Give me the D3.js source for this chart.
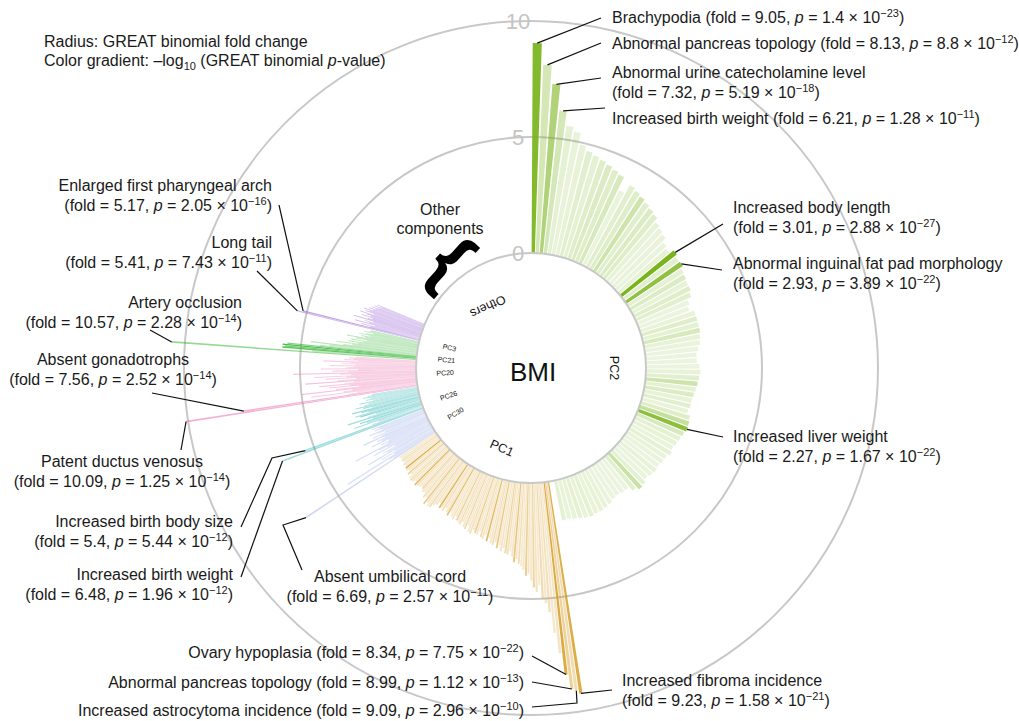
<!DOCTYPE html>
<html>
<head>
<meta charset="utf-8">
<script src="https://cdn.jsdelivr.net/npm/d3@7"></script>
<style>
  body { margin: 0; background: #fff; }
  svg { font-family: "Liberation Sans", Arial, Helvetica, sans-serif; }
</style>
</head>
<body>
<div id="chart"></div>
<script>
// ---- data ----
var groups = ["PC2", "PC1", "PC30", "PC26", "PC20", "PC21", "PC3", "Others"];

// fold change and -log10(p) per bar, in clockwise order inside each group
var pc2Fold = [9.05, 8.13, 7.32, 6.21, 5.6, 5.4, 4.9, 4.7, 4.6, 4.5,
  4.4, 4.3, 4.2, 3.6, 4.0, 3.9, 3.8, 3.7, 3.6, 3.5,
  3.3, 3.2, 3.1, 2.9, 2.8, 3.01, 2.9, 2.93, 2.8, 2.75,
  2.7, 2.7, 2.6, 2.4, 2.3, 2.5, 2.5, 2.5, 2.5, 2.45,
  2.4, 2.3, 2.2, 2.2, 2.3, 2.35, 2.3, 2.25, 2.2, 2.15,
  2.1, 2.1, 2.05, 2.2, 2.25, 2.27, 2.2, 2.15, 2.1, 2.05,
  2.1, 2.0, 2.0, 1.95, 2.0, 1.95, 1.9, 2.0, 2.05, 1.9,
  1.7, 1.7, 1.65, 1.7, 1.8, 1.85, 1.9, 1.9, 1.95, 1.9,
  1.85, 1.8, 1.75, 1.75];
var pc2NegLogP = [22.85, 11.06, 17.28, 10.89, 6, 4, 5, 7, 6, 8,
  9, 8, 10, 3, 7, 8, 12, 7, 9, 8,
  5, 3, 4, 3, 5, 26.54, 7, 21.41, 6, 9,
  5, 8, 7, 2, 2, 4, 8, 6, 10, 5,
  3, 2, 1.5, 1.5, 2, 5, 7, 12, 6, 9,
  5, 7, 4, 8, 14, 21.78, 10, 6, 5, 3,
  6, 4, 3, 2, 5, 3, 2, 6, 13, 7,
  2, 2, 1.5, 2, 3, 4, 5, 4, 6, 4,
  6, 5, 4, 6];

var pc1Fold = [9.23, 9.09, 8.99, 8.34, 7.4, 6.5, 5.6, 5.2, 5.0, 4.4,
  4.7, 4.5, 4.2, 3.9, 4.0, 3.75, 3.6, 3.5, 3.3, 3.45,
  3.2, 3.0, 3.15, 3.1, 2.9, 3.05, 2.8, 2.95, 2.7, 2.85,
  2.8, 2.6, 2.75, 2.5, 2.7, 2.65, 2.4, 2.6, 2.55, 2.45,
  2.65, 2.6, 2.35, 2.55, 2.5, 2.3, 2.45, 2.4, 2.35, 2.2,
  2.4, 2.3, 2.15, 2.35, 2.25, 2.1, 2.3, 2.2, 2.25, 2.05,
  2.2, 2.3, 2.45, 2.5, 2.35, 2.5, 2.2, 2.3, 2.1, 2.15,
  2.05, 2.0, 2.06, 2.1, 2.15, 2.0, 2.1, 2.15, 2.1, 1.95,
  2.05, 1.9, 2.0, 1.95, 1.9, 1.95, 1.85, 1.9, 1.85, 1.9];
var pc1NegLogP = [20.8, 9.53, 12.95, 21.1, 6, 4, 8, 5, 10, 3,
  7, 12, 4, 6, 14, 5, 3, 9, 4, 16,
  6, 3, 8, 12, 4, 7, 3, 15, 5, 9,
  6, 3, 18, 4, 7, 10, 3, 5, 14, 4,
  8, 6, 3, 11, 4, 6, 9, 3, 13, 4,
  7, 5, 3, 17, 6, 4, 9, 5, 19, 3,
  7, 5, 10, 4, 6, 15, 3, 8, 4, 6,
  11, 3, 5, 8, 18, 4, 6, 9, 3, 5,
  13, 4, 7, 20, 3, 6, 4, 9, 5, 3];

var pc30Fold = [6.69, 2.1, 2.3, 4.4, 2.0, 2.6, 1.9, 3.2, 2.2, 2.4, 1.8, 2.8, 2.1, 2.5, 3.6, 2.0,
  2.3, 1.9, 2.7, 2.2, 2.4, 2.0, 3.0, 2.1, 2.5, 1.9, 2.2, 2.6, 2.0, 2.3, 2.1, 2.4];
var pc30NegLogP = [10.6, 3, 4, 6, 2, 5, 3, 7, 2, 4, 2, 6, 3, 5, 8, 2,
  4, 3, 7, 2, 5, 3, 9, 2, 6, 2, 4, 8, 3, 5, 2, 6];

var pc26Fold = [6.48, 5.4, 2.3, 2.0, 3.1, 2.5, 2.8, 2.2, 3.3, 2.4, 2.0, 2.7, 2.9, 2.3,
  2.6, 3.0, 2.1, 2.5, 2.8, 2.4, 2.2, 2.6, 2.0, 2.3, 2.1, 2.4, 2.2, 2.0];
var pc26NegLogP = [11.7, 11.26, 4, 2, 10, 6, 14, 4, 12, 5, 3, 15, 9, 4,
  11, 13, 3, 8, 10, 6, 4, 9, 3, 5, 2, 6, 4, 3];

var pc20Fold = [10.09, 7.56, 3.0, 2.6, 4.6, 3.2, 2.8, 5.0, 3.5, 2.5, 3.8, 2.9, 4.2, 3.1, 2.7, 4.8, 3.4, 2.6, 3.9, 3.0,
  4.4, 2.8, 3.3, 5.3, 2.9, 3.6, 2.5, 4.1, 3.0, 2.7, 3.7, 2.6, 3.2, 2.8, 4.0, 2.5, 3.1, 2.7, 2.9, 2.6];
var pc20NegLogP = [13.9, 13.6, 5, 3, 7, 4, 6, 9, 5, 3, 8, 4, 6, 3, 5, 10, 4, 3, 7, 5,
  6, 3, 4, 8, 3, 5, 2, 7, 4, 3, 6, 2, 4, 3, 5, 2, 4, 3, 4, 2];

var pc21Fold = [10.57, 4.5, 5.8, 5.7, 5.8, 5.6, 4.2, 3.8, 4.6, 3.2, 2.8, 3.5, 2.6, 3.0,
  2.4, 2.9, 2.2, 2.7, 3.1, 2.3, 2.5, 2.1, 2.6, 2.3, 2.0, 2.4, 2.2, 2.1];
var pc21NegLogP = [13.64, 4, 20, 18, 22, 16, 5, 4, 6, 3, 5, 4, 3, 6,
  4, 5, 3, 4, 6, 3, 4, 2, 5, 3, 2, 4, 3, 2];

var pc3Fold = [5.41, 5.17, 2.2, 2.6, 2.0, 2.9, 2.3, 2.5, 2.1, 3.0, 2.4, 2.2, 2.7, 2.3,
  2.5, 2.8, 2.2, 2.6, 2.4, 2.7, 2.3, 2.5, 2.2, 2.4, 2.1, 2.3, 2.0, 2.2];
var pc3NegLogP = [10.13, 15.69, 3, 5, 2, 7, 4, 6, 3, 8, 5, 4, 9, 5,
  7, 10, 4, 8, 6, 9, 5, 7, 4, 6, 3, 5, 2, 4];

var scaleTicks = [0, 5, 10];

// annotated terms
var annGroup = ["PC2", "PC2", "PC2", "PC2", "PC2", "PC2", "PC2", "PC1", "PC1", "PC1", "PC1",
  "PC3", "PC3", "PC21", "PC20", "PC20", "PC26", "PC26", "PC30"];
var annIndex = [0, 1, 2, 3, 25, 27, 55, 3, 2, 1, 0, 1, 0, 0, 1, 0, 1, 0, 0];
var annName = ["Brachypodia", "Abnormal pancreas topology", "Abnormal urine catecholamine level",
  "Increased birth weight", "Increased body length", "Abnormal inguinal fat pad morphology",
  "Increased liver weight", "Ovary hypoplasia", "Abnormal pancreas topology",
  "Increased astrocytoma incidence", "Increased fibroma incidence", "Enlarged first pharyngeal arch",
  "Long tail", "Artery occlusion", "Absent gonadotrophs", "Patent ductus venosus",
  "Increased birth body size", "Increased birth weight", "Absent umbilical cord"];
var annFold = ["9.05", "8.13", "7.32", "6.21", "3.01", "2.93", "2.27", "8.34", "8.99", "9.09", "9.23",
  "5.17", "5.41", "10.57", "7.56", "10.09", "5.4", "6.48", "6.69"];
var annPMant = ["1.4", "8.8", "5.19", "1.28", "2.88", "3.89", "1.67", "7.75", "1.12", "2.96", "1.58",
  "2.05", "7.43", "2.28", "2.52", "1.25", "5.44", "1.96", "2.57"];
var annPExp = [23, 12, 18, 11, 27, 22, 22, 22, 13, 10, 21, 16, 11, 14, 14, 14, 12, 12, 11];

// ---- layout ----
var W = 1019, H = 721, cx = 531, cy = 368;
var deg = Math.PI / 180;

var groupSpan = {
  PC2: [0.3, 168.5], PC1: [171, 236], PC30: [236.2, 249], PC26: [249.3, 260.7],
  PC20: [261, 273.7], PC21: [274, 283.3], PC3: [283.6, 292.5]
};
var arcSpan = {
  PC2: [8, 162.6], PC1: [174, 233], PC30: [235.5, 247.5], PC26: [248.5, 260.5],
  PC20: [261.5, 271.8], PC21: [272.8, 281.8], PC3: [282.8, 291], Others: [294.5, 354.5]
};
var groupColor = {
  PC2: "#78b41a", PC1: "#d4981a", PC30: "#93a6e6", PC26: "#2fb5b5",
  PC20: "#ea6aab", PC21: "#35b535", PC3: "#9c68d6"
};
var groupPad = { PC2: 0.2, PC1: 0.22, PC30: 0.08, PC26: 0.08, PC20: 0.08, PC21: 0.08, PC3: 0.08 };
// lowest opacity per group (thin bars need more)
var groupFloor = { PC2: 0.14, PC1: 0.2, PC30: 0.3, PC26: 0.3, PC20: 0.3, PC21: 0.3, PC3: 0.35 };
// group name inside the ring: angle, radius, rotation, size
var groupLabel = {
  PC2: [90, 83, 90, 12.5], PC1: [200, 85, 24, 12.5], Others: [325, 75, 155, 12.5],
  PC3: [284, 84, 14, 7], PC21: [275.5, 85, 5.5, 7], PC20: [266.8, 86, -3, 7],
  PC26: [251.5, 87, -18.5, 7], PC30: [239, 88, -31, 7]
};

// label positions: x, baseline y, anchor, two lines?, pointer points from the label side
var annLayout = [
  { x: 612, y: 23, a: "start", two: false, pts: [[601, 18]] },
  { x: 612, y: 49, a: "start", two: false, pts: [[601, 43]] },
  { x: 612, y: 78, a: "start", two: true, pts: [[601, 78]] },
  { x: 612, y: 124, a: "start", two: false, pts: [[605, 108]] },
  { x: 733, y: 213, a: "start", two: true, pts: [[723, 224]] },
  { x: 733, y: 269, a: "start", two: true, pts: [[722, 270]] },
  { x: 733, y: 442, a: "start", two: true, pts: [[723, 437]] },
  { x: 524, y: 658, a: "end", two: false, pts: [[532, 656]] },
  { x: 524, y: 688, a: "end", two: false, pts: [[532, 682]] },
  { x: 524, y: 716, a: "end", two: false, pts: [[532, 707], [577, 703]] },
  { x: 622, y: 686, a: "start", two: true, pts: [[612, 690]] },
  { x: 272, y: 191, a: "end", two: true, pts: [[279, 205]] },
  { x: 272, y: 248, a: "end", two: true, pts: [[257, 271]] },
  { x: 242, y: 308, a: "end", two: true, pts: [[150, 330]] },
  { x: 113, y: 365, a: "middle", two: true, pts: [[152, 393]] },
  { x: 122, y: 467, a: "middle", two: true, pts: [[181, 450]] },
  { x: 233, y: 527, a: "end", two: true, pts: [[241, 527], [272, 458]] },
  { x: 233, y: 580, a: "end", two: true, pts: [[241, 577]] },
  { x: 390, y: 582, a: "middle", two: true, pts: [[302, 570], [283, 525]] }
];

var barData = {
  PC2: [pc2Fold, pc2NegLogP], PC1: [pc1Fold, pc1NegLogP], PC30: [pc30Fold, pc30NegLogP],
  PC26: [pc26Fold, pc26NegLogP], PC20: [pc20Fold, pc20NegLogP], PC21: [pc21Fold, pc21NegLogP],
  PC3: [pc3Fold, pc3NegLogP]
};

var svg = d3.select("#chart").append("svg")
  .attr("width", W).attr("height", H);

var r = d3.scaleLinear().domain([0, 10]).range([115, 347]);

function pt(a, rad) { return [cx + rad * Math.sin(a * deg), cy - rad * Math.cos(a * deg)]; }

// grid circles
svg.selectAll(".grid")
  .data([5, 10])
  .enter().append("circle")
  .attr("class", "grid")
  .attr("cx", cx).attr("cy", cy)
  .attr("r", function(d) { return r(d); })
  .style("fill", "none")
  .style("stroke", "#c8c8c8")
  .style("stroke-width", 2);

// bars
var bands = {};
var barG = svg.append("g").attr("transform", "translate(" + cx + "," + cy + ")");
Object.keys(barData).forEach(function(k) {
  var folds = barData[k][0], nlp = barData[k][1];
  var band = d3.scaleBand()
    .domain(d3.range(folds.length))
    .range([groupSpan[k][0] * deg, groupSpan[k][1] * deg])
    .paddingInner(groupPad[k]);
  bands[k] = band;
  var shade = d3.scalePow().exponent(2).domain([0, 24]).range([groupFloor[k], 1]).clamp(true);
  var arc = d3.arc()
    .innerRadius(r(0))
    .outerRadius(function(d) { return r(d.fold); })
    .startAngle(function(d) { return band(d.i); })
    .endAngle(function(d) { return band(d.i) + band.bandwidth(); });
  barG.selectAll(".bar-" + k)
    .data(folds.map(function(f, i) { return { i: i, fold: f, nlp: nlp[i] }; }))
    .enter().append("path")
    .attr("class", "bar-" + k)
    .attr("d", arc)
    .style("fill", groupColor[k])
    .style("fill-opacity", function(d) { return shade(d.nlp); });
});

// inner disc
svg.append("circle")
  .attr("cx", cx).attr("cy", cy).attr("r", r(0))
  .style("fill", "#fff")
  .style("stroke", "#c8c8c8")
  .style("stroke-width", 2);

// group arcs
var ring = d3.arc().innerRadius(106.5).outerRadius(111);
barG.selectAll(".ring")
  .data(groups)
  .enter().append("path")
  .attr("class", "ring")
  .attr("d", function(k) { return ring({ startAngle: arcSpan[k][0] * deg, endAngle: arcSpan[k][1] * deg }); })
  .style("fill", "#222");

groups.forEach(function(k) {
  var gl = groupLabel[k], p = pt(gl[0], gl[1]);
  svg.append("text")
    .attr("transform", "translate(" + p[0] + "," + p[1] + ") rotate(" + gl[2] + ")")
    .attr("text-anchor", "middle")
    .attr("dy", "0.35em")
    .style("font-size", gl[3] + "px")
    .style("fill", "#111")
    .text(k);
});

// scale numbers
svg.selectAll(".tick")
  .data(scaleTicks)
  .enter().append("text")
  .attr("class", "tick")
  .attr("x", cx - 13)
  .attr("y", function(d) { return cy - r(d) + 8; })
  .attr("text-anchor", "middle")
  .style("font-size", "22px")
  .style("fill", "#c4c4c4")
  .text(function(d) { return d; });

svg.append("text")
  .attr("x", cx + 2).attr("y", cy + 13)
  .attr("text-anchor", "middle")
  .style("font-size", "26px")
  .style("fill", "#111")
  .text("BMI");

// rich text helper (italic, super/subscript)
function addSegs(text, segs) {
  var shift = 0;
  segs.forEach(function(s) {
    var ts = text.append("tspan").text(s.t);
    var want = s.sup ? -6 : (s.sub ? 4 : 0);
    if (want !== shift) { ts.attr("dy", want - shift); shift = want; }
    if (s.sup || s.sub) ts.style("font-size", "11px");
    if (s.it) ts.style("font-style", "italic");
  });
}
function foldSegs(f, m, e) {
  return [{ t: "(fold = " + f + ", " }, { t: "p", it: true }, { t: " = " + m + " \u00d7 10" },
    { t: "\u2212" + e, sup: true }, { t: ")" }];
}

var labG = svg.append("g").style("font-size", "16px").style("fill", "#1a1a1a");

// legend
addSegs(labG.append("text").attr("x", 44).attr("y", 47), [{ t: "Radius: GREAT binomial fold change" }]);
addSegs(labG.append("text").attr("x", 44).attr("y", 66),
  [{ t: "Color gradient: \u2013log" }, { t: "10", sub: true }, { t: " (GREAT binomial " }, { t: "p", it: true }, { t: "-value)" }]);

// other components
labG.append("text").attr("x", 440).attr("y", 215).attr("text-anchor", "middle").text("Other");
labG.append("text").attr("x", 440).attr("y", 234).attr("text-anchor", "middle").text("components");
svg.append("text")
  .attr("transform", "translate(452,260) rotate(42)")
  .attr("text-anchor", "middle")
  .attr("dy", "0.35em")
  .style("font-size", "74px")
  .style("font-weight", "bold")
  .style("fill", "#000")
  .text("{");

// annotations
var line = d3.line();
annName.forEach(function(name, j) {
  var L = annLayout[j], k = annGroup[j], band = bands[k], i = annIndex[j];
  var a = (band(i) + band.bandwidth() / 2) / deg;
  var tip = pt(a, r(barData[k][0][i]));
  svg.append("path")
    .attr("d", line(L.pts.concat([tip])))
    .style("fill", "none")
    .style("stroke", "#111")
    .style("stroke-width", 1.2);
  var segs = foldSegs(annFold[j], annPMant[j], annPExp[j]);
  if (L.two) {
    labG.append("text").attr("x", L.x).attr("y", L.y).attr("text-anchor", L.a).text(name);
    addSegs(labG.append("text").attr("x", L.x).attr("y", L.y + 19.5).attr("text-anchor", L.a), segs);
  } else {
    segs[0].t = name + " " + segs[0].t;
    addSegs(labG.append("text").attr("x", L.x).attr("y", L.y).attr("text-anchor", L.a), segs);
  }
});
</script>
</body>
</html>
